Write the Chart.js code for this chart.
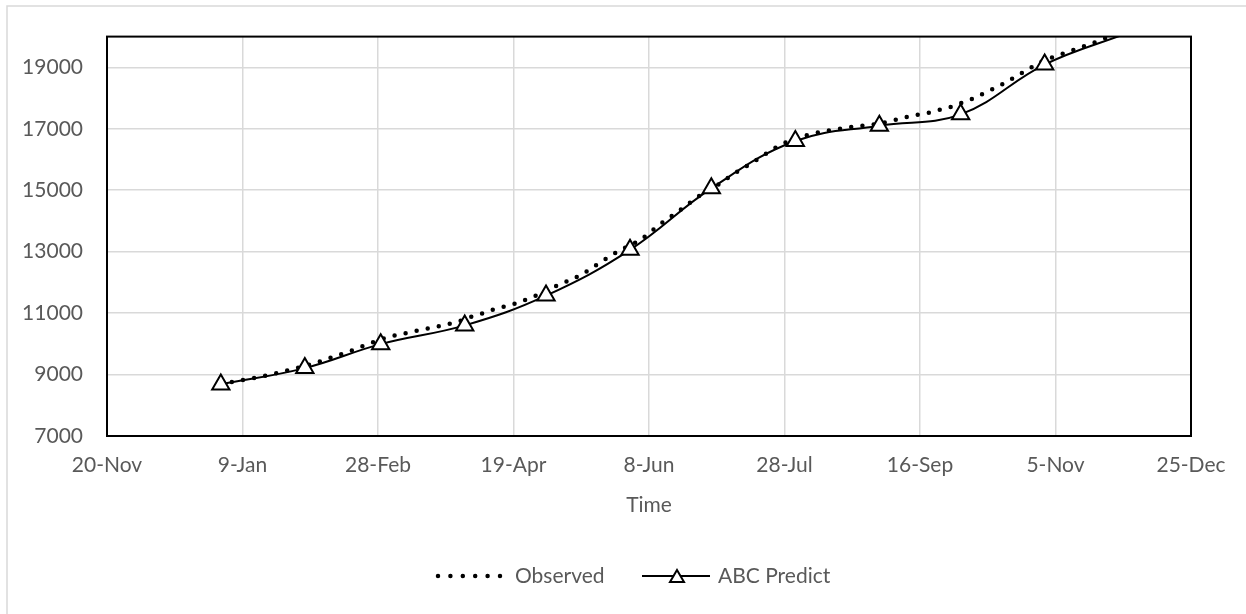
<!DOCTYPE html>
<html>
<head>
<meta charset="utf-8">
<script src="https://cdn.jsdelivr.net/npm/chart.js@4.4.1/dist/chart.umd.min.js"></script>
<style>
  html, body { margin: 0; padding: 0; background: #fff; }
</style>
</head>
<body>
<canvas id="myChart" width="1246" height="614"></canvas>
<script>
// x values are days counted from 20-Nov
const xTickLabels = ['20-Nov', '9-Jan', '28-Feb', '19-Apr', '8-Jun', '28-Jul', '16-Sep', '5-Nov', '25-Dec'];
const yTicks = [7000, 9000, 11000, 13000, 15000, 17000, 19000];

const observedDays = [42, 46, 55, 63, 67, 76, 84, 92, 96, 104, 113, 122, 130, 134, 138, 142, 151, 159, 166, 175, 182, 189, 197, 204, 211, 218, 225, 232, 240, 247, 252, 259, 268, 277, 284, 290, 294, 297, 302, 306, 311, 315, 319, 323, 327, 331, 338, 345, 354, 362, 370, 376];
const observedValues = [8680, 8760, 8900, 9050, 9140, 9355, 9590, 9840, 9980, 10220, 10400, 10565, 10740, 10870, 10975, 11100, 11320, 11600, 11890, 12250, 12650, 13030, 13400, 13890, 14320, 14780, 15150, 15570, 16000, 16400, 16620, 16810, 16970, 17080, 17150, 17270, 17350, 17430, 17490, 17590, 17700, 17830, 17960, 18130, 18300, 18480, 18840, 19190, 19480, 19730, 20000, 20200];

const predictDays = [42, 73, 101, 132, 162, 193, 223, 254, 285, 315, 346, 376];
const predictValues = [8680, 9210, 9990, 10600, 11570, 13060, 15060, 16600, 17100, 17470, 19090, 20100];

const yMin = 7000;
const yMax = 20000;

const textColor = '#595959';
const fontFamily = 'Lato, "Open Sans", sans-serif';
const fontSize = 21;
Chart.defaults.font.family = fontFamily;
Chart.defaults.font.size = fontSize;
Chart.defaults.color = textColor;

const toPoints = (days, values) => days.map((d, i) => ({ x: d, y: values[i] }));

const framePlugin = {
  id: 'frame',
  beforeDraw(chart) {
    const c = chart.ctx;
    c.save();
    c.fillStyle = '#fff';
    c.fillRect(0, 0, chart.width, chart.height);
    c.strokeStyle = '#d9d9d9';
    c.lineWidth = 1.5;
    c.beginPath();
    c.moveTo(7, chart.height);
    c.lineTo(7, 6);
    c.lineTo(chart.width, 6);
    c.stroke();
    c.restore();
  },
  afterDatasetsDraw(chart) {
    const { left, top, width, height } = chart.chartArea;
    const c = chart.ctx;
    c.save();
    c.strokeStyle = '#000';
    c.lineWidth = 2;
    c.strokeRect(left, top, width, height);
    c.restore();
  },
  afterDraw(chart) {
    // legend drawn by hand so the line styles show like the original
    const c = chart.ctx;
    const y = chart.chartArea.bottom + 140;
    c.save();
    c.strokeStyle = '#000';
    c.lineCap = 'round';
    c.lineWidth = 4.5;
    c.setLineDash([0, 12.4]);
    c.beginPath();
    c.moveTo(438, y);
    c.lineTo(501, y);
    c.stroke();
    c.setLineDash([]);
    c.lineCap = 'butt';
    c.lineWidth = 2;
    c.beginPath();
    c.moveTo(642, y);
    c.lineTo(710, y);
    c.stroke();
    c.beginPath();
    c.moveTo(677, y - 6);
    c.lineTo(684, y + 6);
    c.lineTo(670, y + 6);
    c.closePath();
    c.fillStyle = '#fff';
    c.fill();
    c.stroke();
    c.fillStyle = textColor;
    c.font = fontSize + 'px ' + fontFamily;
    c.textBaseline = 'middle';
    c.textAlign = 'left';
    c.fillText('Observed', 515, y);
    c.fillText('ABC Predict', 718, y);
    c.restore();
  }
};

const ctx = document.getElementById('myChart');
const miGrafico = new Chart(ctx, {
  type: 'line',
  data: {
    datasets: [
      {
        label: 'Observed',
        data: toPoints(observedDays, observedValues),
        borderColor: '#000',
        borderWidth: 4.5,
        borderDash: [0, 11.3],
        borderCapStyle: 'round',
        cubicInterpolationMode: 'monotone',
        pointRadius: 0,
        fill: false,
        order: 1,
      },
      {
        label: 'ABC Predict',
        data: toPoints(predictDays, predictValues),
        borderColor: '#000',
        borderWidth: 2,
        tension: 0.4,
        pointStyle: 'triangle',
        pointRadius: (c) => (c.raw && c.raw.y > yMax ? 0 : 10),
        pointBorderWidth: 2,
        pointBackgroundColor: '#fff',
        pointBorderColor: '#000',
        fill: false,
        order: 0,
      },
    ],
  },
  options: {
    responsive: false,
    animation: false,
    layout: {
      padding: { top: 35, right: 55, left: 0, bottom: 96 },
    },
    plugins: {
      legend: { display: false },
      tooltip: { enabled: false },
    },
    scales: {
      x: {
        type: 'linear',
        min: 0,
        max: 400,
        ticks: {
          stepSize: 50,
          padding: 17,
          maxRotation: 0,
          autoSkip: false,
          callback: (v) => xTickLabels[Math.round(v / 50)],
        },
        grid: { color: '#d9d9d9', lineWidth: 1.5, drawTicks: false },
        border: { display: false },
        title: {
          display: true,
          text: 'Time',
          color: textColor,
          font: { size: fontSize },
          padding: { top: 0, bottom: 0 },
        },
        afterFit: (scale) => { scale.height = 82; },
      },
      y: {
        min: yMin,
        max: yMax,
        afterBuildTicks: (scale) => { scale.ticks = yTicks.map((v) => ({ value: v })); },
        ticks: {
          padding: 24,
          callback: (v) => String(v),
        },
        grid: { color: '#d9d9d9', lineWidth: 1.5, drawTicks: false },
        border: { display: false },
        afterFit: (scale) => { scale.width = 107; },
      },
    },
  },
  plugins: [framePlugin],
});
</script>
</body>
</html>
